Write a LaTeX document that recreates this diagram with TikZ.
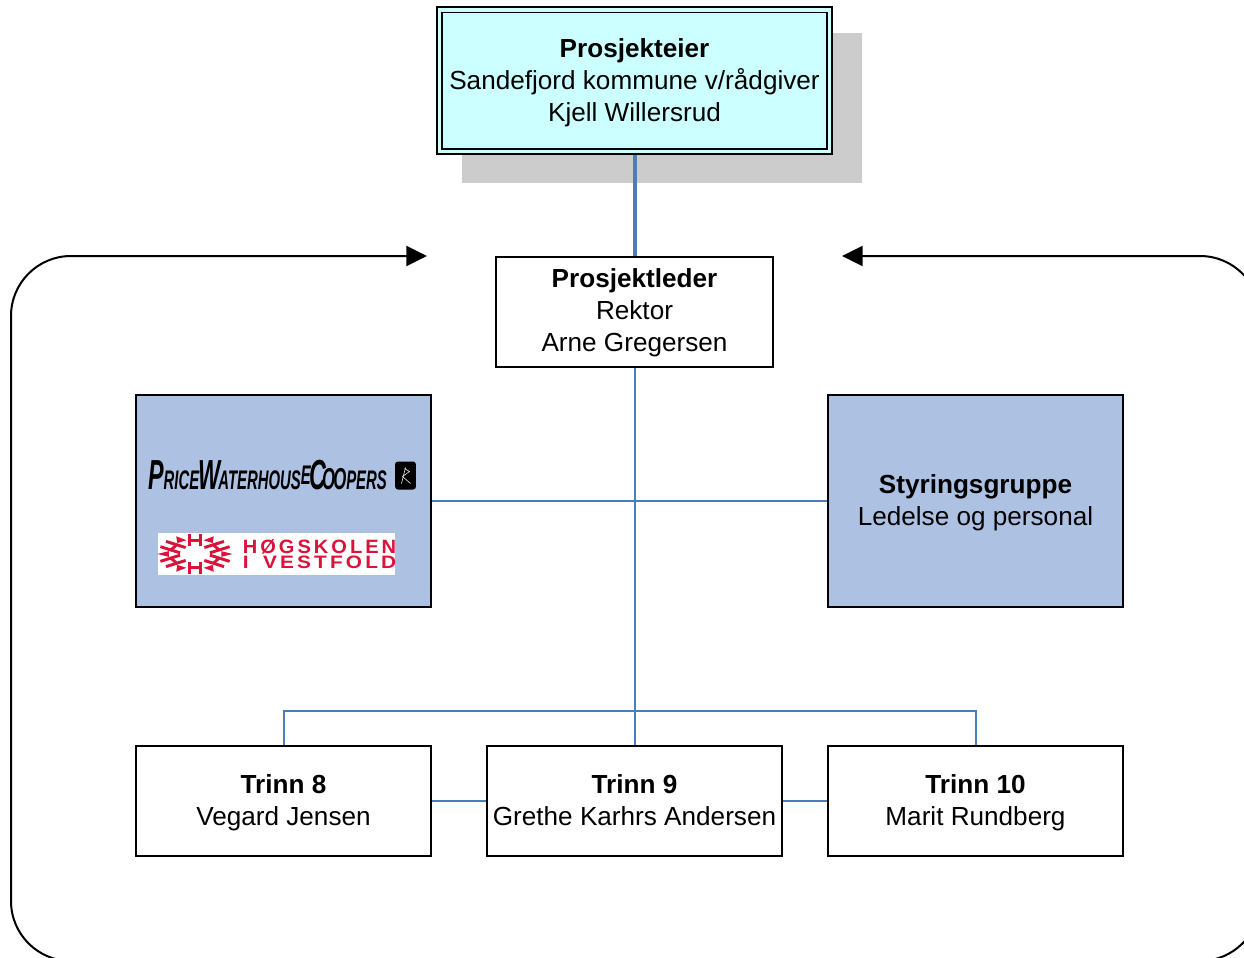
\documentclass[tikz,border=0pt]{standalone}
\usepackage{fontspec}
\setmainfont{Liberation Sans}
\usetikzlibrary{arrows.meta}
\definecolor{eiercyan}{HTML}{CCFFFF}
\definecolor{boxblue}{HTML}{ADC1E2}
\definecolor{skygge}{HTML}{CCCCCC}
\definecolor{linjeblue}{HTML}{4A7EBB}
\definecolor{hsvred}{HTML}{D9133A}
\newcommand{\topp}{\rule{0pt}{19.5pt}}
\tikzset{
	x=0.75pt, y=-0.75pt,
	boks/.style={draw=black, line width=1.5pt, align=center, inner sep=0pt, font=\fontsize{19.6}{24}\selectfont},
	trinn/.style={boks, fill=white, minimum width=221.5pt, minimum height=82.5pt},
	stor/.style={boks, fill=boxblue, minimum width=221.5pt, minimum height=159pt},
	linje/.style={draw=linjeblue, line width=1.5pt},
	snow/.style={draw=hsvred, line width=2.2pt}
}
\begin{document}
\begin{tikzpicture}
	\clip (0,0) rectangle (1244,957);
	\fill[white] (0,0) rectangle (1244,957);
	\node[fill=skygge, minimum width=300pt, minimum height=112.5pt, inner sep=0pt] (SK)at(662, 108) {};
	\node[boks, fill=eiercyan, double=eiercyan, double distance=2.6pt, line width=1.4pt, outer sep=2.7pt, minimum width=292.8pt, minimum height=106.4pt] (E)at(634.5, 80.8) {\topp\textbf{Prosjekteier}\\Sandefjord kommune v/rådgiver\\Kjell Willersrud\strut};
	\node[trinn, minimum width=207.5pt] (L)at(634.5, 311.5) {\topp\textbf{Prosjektleder}\\Rektor\\Arne Gregersen\strut};
	\node[stor] (PW)at(283.5, 501) {};
	\node[stor] (S)at(975.5, 501) {\topp\textbf{Styringsgruppe}\\Ledelse og personal\strut};
	\node[trinn] (T8)at(283.5, 801) {\topp\textbf{Trinn 8}\\Vegard Jensen\strut};
	\node[trinn] (T9)at(634.5, 801) {\topp\textbf{Trinn 9}\\Grethe Karhrs Andersen\strut};
	\node[trinn] (T10)at(975.5, 801) {\topp\textbf{Trinn 10}\\Marit Rundberg\strut};
	\coordinate (VP)at(427, 256);
	\coordinate (HP)at(842, 256);
	\coordinate (VH)at(11, 961);
	\coordinate (HH)at(1260, 961);
	\draw[linjeblue, line width=3pt] (E) -- (L);
	\draw[linje] (L) -- (T9);
	\draw[linje] (PW) -- (S);
	\draw[linje] (T8.north) -- ++(0,-34.5) -| (T10.north);
	\draw[linje] (T8) -- (T9);
	\draw[linje] (T9) -- (T10);
	\draw[{Triangle[length=15.5pt,width=15pt]}-{Triangle[length=15.5pt,width=15pt]}, line width=1.5pt, rounded corners=45pt] (VP) -| (VH) -- (HH) |- (HP);
	\node[inner sep=0pt] (PWC)at(267.5, 475) {\resizebox{179pt}{22pt}{\textbf{\textit{\fontsize{25}{25}\selectfont P\fontsize{16}{16}\selectfont RICE\kern-1pt\fontsize{25}{25}\selectfont W\kern-2pt\fontsize{16}{16}\selectfont ATERHOUS\raisebox{3pt}{E}\kern-1pt\fontsize{25}{25}\selectfont C\kern-5pt\fontsize{18}{18}\selectfont O\kern-2pt O\fontsize{16}{16}\selectfont PERS}}}};
	\node[fill=black, rounded corners=2pt, minimum width=15.5pt, minimum height=21pt, inner sep=0pt] (KV)at(405.5, 475.5) {};
	\draw[white, line width=0.4pt] (KV.center) ++(-4,8) -- ++(4,-16) ++(-1,1) -- ++(5,3) -- ++(-7,5) -- ++(8,7);
	\node[fill=white, minimum width=178pt, minimum height=31.5pt, inner sep=0pt] (HV)at(276.5, 554) {};
	\node[inner sep=0pt, text=hsvred] (HT1)at(319.5, 546.5) {\resizebox{115pt}{10.4pt}{\textbf{H\hspace{.15em}Ø\hspace{.15em}G\hspace{.15em}S\hspace{.15em}K\hspace{.15em}O\hspace{.15em}L\hspace{.15em}E\hspace{.15em}N}}};
	\node[inner sep=0pt, text=hsvred] (HT2)at(319.5, 562) {\resizebox{115pt}{9.4pt}{\textbf{I\hspace{.7em}V\hspace{.15em}E\hspace{.15em}S\hspace{.15em}T\hspace{.15em}F\hspace{.15em}O\hspace{.15em}L\hspace{.15em}D}}};
	\coordinate (FL)at(195, 554);
	\foreach \v in {30,90,150,210,270,330} {
		\begin{scope}[shift={(FL)}, xscale=1.75, yscale=0.95, rotate=\v]
			\draw[snow] (8,-3.2) -- (21,-3.2);
			\draw[snow] (8,3.2) -- (21,3.2);
			\draw[snow] (14,-3.2) -- (14,3.2);
			\fill[hsvred, rotate=30] (15,-3) -- (21.5,0) -- (15,3) -- cycle;
		\end{scope}
	}
\end{tikzpicture}
\end{document}
